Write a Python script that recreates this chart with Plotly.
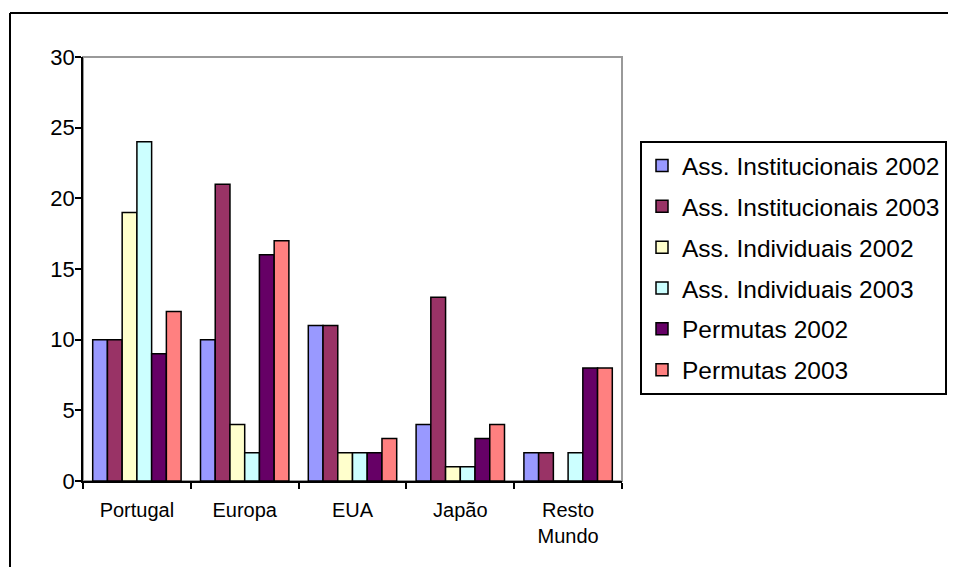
import plotly.graph_objects as go

categories = ["Portugal", "Europa", "EUA", "Japão", "Resto<br>Mundo"]
series_names = [
    "Ass. Institucionais 2002",
    "Ass. Institucionais 2003",
    "Ass. Individuais 2002",
    "Ass. Individuais 2003",
    "Permutas 2002",
    "Permutas 2003",
]
inst_2002 = [10, 10, 11, 4, 2]
inst_2003 = [10, 21, 11, 13, 2]
indiv_2002 = [19, 4, 2, 1, 0]
indiv_2003 = [24, 2, 2, 1, 2]
perm_2002 = [9, 16, 2, 3, 8]
perm_2003 = [12, 17, 3, 4, 8]
series_values = [inst_2002, inst_2003, indiv_2002, indiv_2003, perm_2002, perm_2003]
colors = ["#9999FF", "#993366", "#FFFFCC", "#CCFFFF", "#660066", "#FF8080"]
y_ticks = [0, 5, 10, 15, 20, 25, 30]

fig = go.Figure()
for name, vals, col in zip(series_names, series_values, colors):
    fig.add_trace(go.Bar(
        name=name, x=categories, y=vals, legendgroup=name,
        marker=dict(color=col, line=dict(color="black", width=1.5)),
    ))

# page shows the figure offset by 8px (body margin); compensate
OFF = 8
W, H = 956 - OFF, 575 - 2 * OFF
L, T = 83 - OFF, 57 - OFF
R = W - (622 - OFF)
B = H - (481 - OFF)
pw, ph = W - L - R, H - T - B

def px(xw):
    return (xw - OFF - L) / pw

def py(yw):
    return (H - B - (yw - OFF)) / ph

fig.update_layout(
    width=W, height=H,
    margin=dict(l=L, r=R, t=T, b=B, pad=0, autoexpand=False),
    barmode="group", bargap=0.18, bargroupgap=0,
    plot_bgcolor="white", paper_bgcolor="white",
    font=dict(family="Liberation Sans, Arial, sans-serif", color="black"),
    legend=dict(
        x=px(640), y=py(141), xanchor="left", yanchor="top",
        font=dict(size=24.5), bordercolor="black", borderwidth=2,
        bgcolor="white", traceorder="grouped", tracegroupgap=6,
        itemwidth=30,
    ),
    xaxis=dict(
        showline=True, linecolor="black", linewidth=1.5,
        ticks="outside", ticklen=6, tickwidth=1.5, tickcolor="black",
        tickson="boundaries", tickfont=dict(size=20), showgrid=False,
        ticklabelstandoff=10,
    ),
    yaxis=dict(
        range=[0, 30], tickvals=y_ticks, showline=True, linecolor="black",
        linewidth=1.5, ticks="outside", ticklen=6, tickwidth=1.5,
        tickcolor="black", tickfont=dict(size=22), showgrid=False,
        zeroline=False, ticklabelstandoff=-4,
    ),
    shapes=[
        dict(type="rect", xref="paper", yref="paper", x0=0, x1=1, y0=0, y1=1,
             line=dict(color="#999999", width=2), layer="below"),
        dict(type="line", xref="paper", yref="paper",
             x0=px(10), x1=px(W + 40), y0=py(13), y1=py(13),
             line=dict(color="black", width=2), layer="below"),
        dict(type="line", xref="paper", yref="paper",
             x0=px(10), x1=px(10), y0=py(13), y1=py(H + 40),
             line=dict(color="black", width=2), layer="below"),
    ],
)

fig.write_html("out.html")
